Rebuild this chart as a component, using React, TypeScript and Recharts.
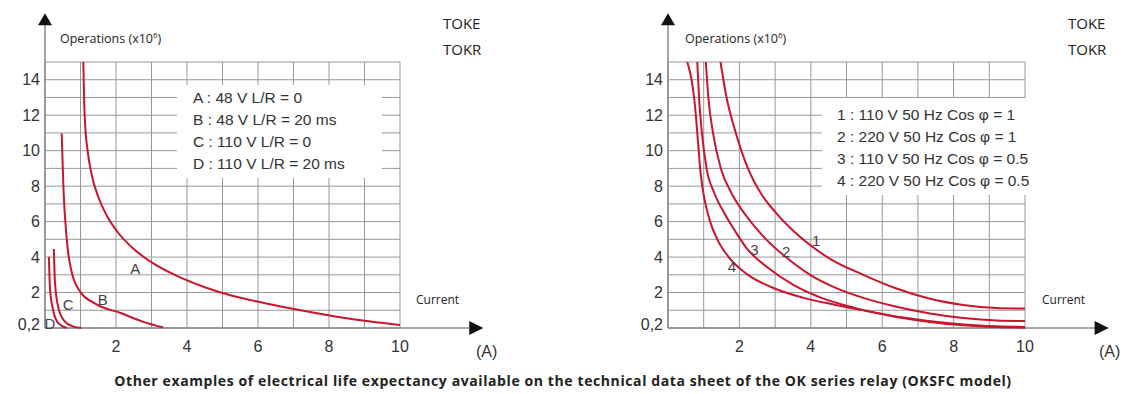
import React from 'react';
import {
  LineChart,
  Line,
  XAxis,
  YAxis,
  CartesianGrid,
  ReferenceLine,
  ReferenceDot,
} from 'recharts';

// current (A), operations (x10^6)
const curveA = [[1.08, 15], [1.1, 13], [1.13, 11.5], [1.2, 10], [1.32, 8.6], [1.5, 7.4], [1.75, 6.3], [2.05, 5.4], [2.5, 4.45], [3.05, 3.64], [3.7, 2.95], [4.5, 2.3], [5.3, 1.8], [6.2, 1.4], [7.2, 1.0], [8.5, 0.55], [10, 0.17]];
const curveB = [[0.47, 10.97], [0.52, 7.87], [0.61, 5.05], [0.75, 3.17], [0.99, 2.05], [1.4, 1.39], [2.15, 0.83], [2.75, 0.36], [3.33, 0.03]];
const curveC = [[0.25, 4.45], [0.28, 2.61], [0.38, 1.11], [0.56, 0.36], [0.8, 0.08], [1.03, 0.0]];
const curveD = [[0.11, 4.02], [0.14, 2.24], [0.24, 0.92], [0.38, 0.26], [0.61, 0.0]];

const curve1 = [[1.47, 15], [1.64, 13], [1.9, 11], [2.24, 9], [2.6, 7.6], [3.0, 6.55], [3.5, 5.5], [4.0, 4.65], [4.54, 3.9], [5.47, 3.0], [6.4, 2.23], [7.34, 1.65], [8.27, 1.3], [9.2, 1.13], [10, 1.1]];
const curve2 = [[1.06, 15], [1.13, 13], [1.26, 11], [1.48, 9], [1.78, 7.6], [2.2, 6.3], [2.7, 5.1], [3.3, 4.0], [3.98, 3.0], [4.6, 2.35], [5.47, 1.7], [6.4, 1.2], [7.34, 0.82], [8.27, 0.56], [9.2, 0.42], [10, 0.39]];
const curve3 = [[0.82, 15], [0.87, 13], [0.95, 11], [1.08, 9], [1.3, 7.6], [1.6, 6.4], [1.9, 5.4], [2.2, 4.5], [2.8, 3.4], [3.5, 2.45], [4.3, 1.7], [5.2, 1.15], [6.2, 0.72], [7.3, 0.4], [8.3, 0.2], [9.2, 0.1], [10, 0.06]];
const curve4 = [[0.54, 15], [0.66, 14], [0.73, 13], [0.78, 12], [0.82, 11], [0.86, 10], [0.9, 9], [0.96, 8], [1.05, 7], [1.18, 6], [1.38, 5], [1.7, 4], [2.2, 3.05], [2.9, 2.3], [3.8, 1.7], [4.7, 1.3], [5.5, 0.98], [6.4, 0.62], [7.34, 0.34], [8.27, 0.15], [9.2, 0.05], [10, 0.02]];

const leftTags = [['A', 2.54, 3.38], ['B', 1.63, 1.58], ['C', 0.65, 1.3], ['D', 0.14, 0.28]];
const rightTags = [['1', 4.15, 4.96], ['2', 3.31, 4.34], ['3', 2.42, 4.42], ['4', 1.79, 3.44]];

const leftLegend = ['A : 48 V L/R = 0', 'B : 48 V L/R = 20 ms', 'C : 110 V L/R = 0', 'D : 110 V L/R = 20 ms'];
const rightLegend = ['1 : 110 V 50 Hz Cos φ = 1', '2 : 220 V 50 Hz Cos φ = 1', '3 : 110 V 50 Hz Cos φ = 0.5', '4 : 220 V 50 Hz Cos φ = 0.5'];

const xTicks = [2, 4, 6, 8, 10];
const yTicks = [0.2, 2, 4, 6, 8, 10, 12, 14];
const gridX = [0, 1, 2, 3, 4, 5, 6, 7, 8, 9, 10];
const gridY = [0, 1, 2, 3, 4, 5, 6, 7, 8, 9, 10, 11, 12, 13, 14, 15];

const RED = '#c8162e';
const AXIS = '#8a8a8a';
const TXT = '#333';
const SANS = '"Liberation Sans", Arial, sans-serif';
const HUMAN = '"Open Sans", "Noto Sans", sans-serif';

const pts = (c: number[][]) => c.map(([x, y]) => ({ x, y }));

const UpArrow = (p: any) => (
  <polygon points={`${p.cx},${p.cy - 12} ${p.cx - 7},${p.cy} ${p.cx + 7},${p.cy}`} fill="#111" />
);
const RightArrow = (p: any) => (
  <polygon points={`${p.cx + 14},${p.cy} ${p.cx},${p.cy - 7} ${p.cx},${p.cy + 7}`} fill="#111" />
);
const tagShape = (t: string) => (p: any) => (
  <text x={p.cx} y={p.cy} textAnchor="middle" dominantBaseline="central" fontSize={15} fill="#444" fontFamily={SANS}>
    {t}
  </text>
);

function Graph({ curves, tags, width, marginLeft, marginRight }: any) {
  return (
    <LineChart width={width} height={394} margin={{ top: 62, right: marginRight, bottom: 36, left: marginLeft }}>
      <CartesianGrid stroke="#999" strokeWidth={1} verticalValues={gridX} horizontalValues={gridY} />
      <XAxis
        type="number"
        dataKey="x"
        domain={[0, 10]}
        ticks={xTicks}
        axisLine={false}
        tickLine={false}
        tickSize={0}
        tickMargin={13}
        height={30}
        tick={{ fontSize: 16, fill: TXT, fontFamily: SANS }}
      />
      <YAxis
        type="number"
        domain={[0, 15]}
        ticks={yTicks}
        axisLine={false}
        tickLine={false}
        tickSize={0}
        tickMargin={5}
        width={40}
        interval={0}
        tickFormatter={(v: number) => String(v).replace('.', ',')}
        tick={{ fontSize: 16, fill: TXT, fontFamily: SANS }}
      />
      <ReferenceLine segment={[{ x: 0, y: 0 }, { x: 0, y: 17.1 }]} stroke={AXIS} strokeWidth={1.5} ifOverflow="visible" />
      <ReferenceLine segment={[{ x: 0, y: 0 }, { x: 11.95, y: 0 }]} stroke={AXIS} strokeWidth={1.5} ifOverflow="visible" />
      <ReferenceDot x={0} y={17.07} ifOverflow="visible" shape={UpArrow} />
      <ReferenceDot x={11.95} y={0} ifOverflow="visible" shape={RightArrow} />
      {curves.map((c: number[][], i: number) => (
        <Line
          key={i}
          data={pts(c)}
          dataKey="y"
          type="monotone"
          stroke={RED}
          strokeWidth={2}
          dot={false}
          activeDot={false}
          isAnimationActive={false}
        />
      ))}
      {tags.map((t: any[]) => (
        <ReferenceDot key={t[0]} x={t[1]} y={t[2]} ifOverflow="visible" shape={tagShape(t[0])} />
      ))}
    </LineChart>
  );
}

const abs = (s: React.CSSProperties): React.CSSProperties => ({ position: 'absolute', whiteSpace: 'nowrap', ...s });

export default function App() {
  return (
    <div style={{ position: 'absolute', left: 0, top: 0, width: 1126, height: 394, background: '#fff', fontFamily: SANS }}>
      <div style={abs({ left: 0, top: 0 })}>
        <Graph curves={[curveA, curveB, curveC, curveD]} tags={leftTags} width={500} marginLeft={5} marginRight={100} />
      </div>
      <div style={abs({ left: 600, top: 0 })}>
        <Graph curves={[curve1, curve2, curve3, curve4]} tags={rightTags} width={520} marginLeft={28} marginRight={95} />
      </div>

      {/* legend boxes cover the grid */}
      <div style={abs({ left: 177, top: 85, width: 205, height: 93, background: '#fff' })}>
        {leftLegend.map((s, i) => (
          <div key={s} style={abs({ left: 16, top: 3 + i * 22, fontSize: 15.5, lineHeight: '20px', color: TXT })}>{s}</div>
        ))}
      </div>
      <div style={abs({ left: 822, top: 98, width: 248, height: 97, background: '#fff' })}>
        {rightLegend.map((s, i) => (
          <div key={s} style={abs({ left: 15, top: 7 + i * 22, fontSize: 15.5, lineHeight: '20px', color: TXT })}>{s}</div>
        ))}
      </div>

      <div style={abs({ left: 60, top: 26, fontSize: 12.5, lineHeight: '18px', color: '#222', fontFamily: HUMAN })}>
        Operations (x10<sup style={{ fontSize: 8 }}>6</sup>)
      </div>
      <div style={abs({ left: 685, top: 26, fontSize: 12.5, lineHeight: '18px', color: '#222', fontFamily: HUMAN })}>
        Operations (x10<sup style={{ fontSize: 8 }}>6</sup>)
      </div>

      <div style={abs({ left: 443, top: 13, fontSize: 15, lineHeight: '20px', color: '#222', fontFamily: HUMAN })}>TOKE</div>
      <div style={abs({ left: 443, top: 39, fontSize: 15, lineHeight: '20px', color: '#222', fontFamily: HUMAN })}>TOKR</div>
      <div style={abs({ left: 1068, top: 13, fontSize: 15, lineHeight: '20px', color: '#222', fontFamily: HUMAN })}>TOKE</div>
      <div style={abs({ left: 1068, top: 39, fontSize: 15, lineHeight: '20px', color: '#222', fontFamily: HUMAN })}>TOKR</div>

      <div style={abs({ left: 416, top: 292, fontSize: 12, lineHeight: '16px', color: '#222', fontFamily: HUMAN })}>Current</div>
      <div style={abs({ left: 1042, top: 292, fontSize: 12, lineHeight: '16px', color: '#222', fontFamily: HUMAN })}>Current</div>
      <div style={abs({ left: 476, top: 343, fontSize: 16, lineHeight: '18px', color: TXT })}>(A)</div>
      <div style={abs({ left: 1099, top: 343, fontSize: 16, lineHeight: '18px', color: TXT })}>(A)</div>

      <div style={abs({ left: 0, top: 372, width: 1126, textAlign: 'center', fontSize: 14, letterSpacing: 0.6, lineHeight: '18px', fontWeight: 700, color: '#222', fontFamily: HUMAN })}>
        Other examples of electrical life expectancy available on the technical data sheet of the OK series relay (OKSFC model)
      </div>
    </div>
  );
}
